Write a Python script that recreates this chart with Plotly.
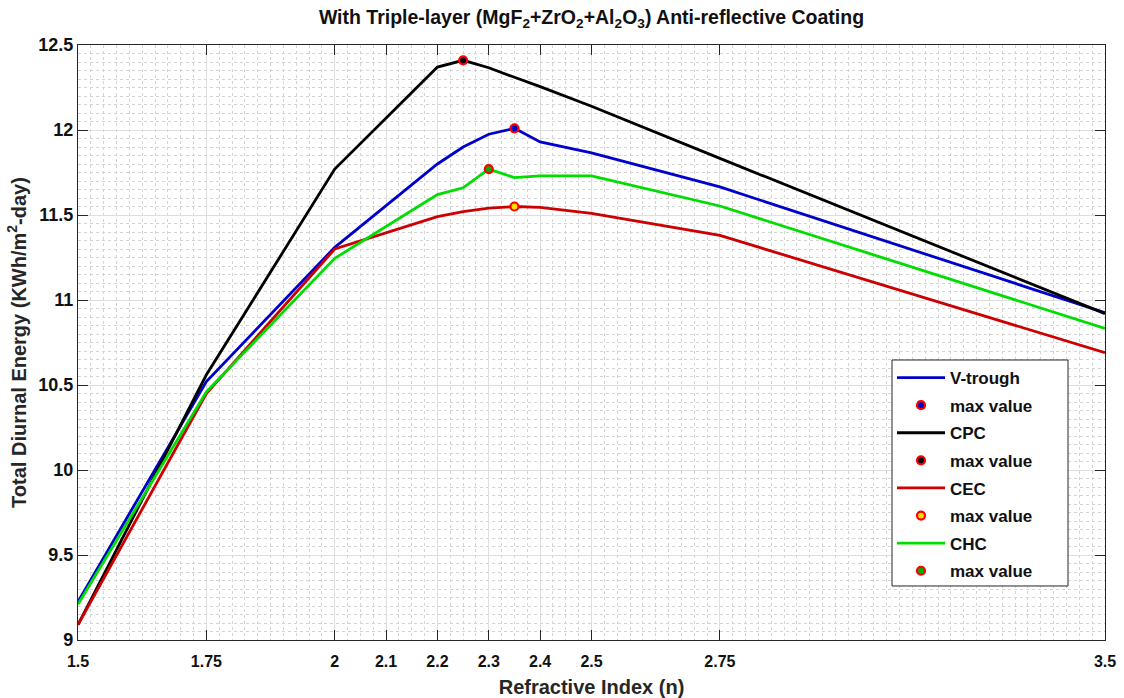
import numpy as np
import plotly.graph_objects as go

# Refractive index of the coating stack
n_index = [1.5, 1.75, 2.0, 2.2, 2.25, 2.3, 2.35, 2.4, 2.5, 2.75, 3.5]

# Total diurnal energy (KWh/m^2-day) per concentrator
v_trough = [9.225, 10.52, 11.31, 11.80, 11.90, 11.975, 12.01, 11.93, 11.865, 11.665, 10.925]
cpc = [9.09, 10.56, 11.77, 12.37, 12.41, 12.366, 12.31, 12.255, 12.14, 11.833, 10.92]
cec = [9.09, 10.45, 11.30, 11.49, 11.52, 11.54, 11.55, 11.545, 11.51, 11.38, 10.69]
chc = [9.21, 10.46, 11.245, 11.62, 11.66, 11.77, 11.72, 11.73, 11.73, 11.553, 10.833]

x_ticks = [1.5, 1.75, 2, 2.1, 2.2, 2.3, 2.4, 2.5, 2.75, 3.5]
x_tick_text = ["1.5", "1.75", "2", "2.1", "2.2", "2.3", "2.4", "2.5", "2.75", "3.5"]
y_ticks = [9, 9.5, 10, 10.5, 11, 11.5, 12, 12.5]
y_tick_text = ["9", "9.5", "10", "10.5", "11", "11.5", "12", "12.5"]

series = [
    ("V-trough", v_trough, "#0000CD", "#0000CD"),
    ("CPC", cpc, "#000000", "#000000"),
    ("CEC", cec, "#CC0000", "#FFE000"),
    ("CHC", chc, "#00DD00", "#00B000"),
]

FONT = "Arial, Liberation Sans, sans-serif"

fig = go.Figure()
for i, (name, vals, color, center) in enumerate(series):
    vals = np.asarray(vals)
    k = int(np.argmax(vals))
    fig.add_trace(go.Scatter(
        x=n_index, y=vals, mode="lines", name=name,
        line=dict(color=color, width=2.8),
        legendgroup=f"g{2*i}",
    ))
    fig.add_trace(go.Scatter(
        x=[n_index[k]], y=[vals[k]], mode="markers", name="max value",
        marker=dict(symbol="circle", size=8, color=center,
                    line=dict(color="#FF0000", width=2.2)),
        legendgroup=f"g{2*i+1}",
    ))

axis_common = dict(
    showline=True, linecolor="#262626", linewidth=1.2, mirror="allticks",
    ticks="inside", ticklen=10, tickwidth=1.2, tickcolor="#262626",
    showgrid=True, gridcolor="#dedede", gridwidth=1.2,
    zeroline=False, automargin=False,
)

fig.update_xaxes(
    range=[1.5, 3.5], tickmode="array", tickvals=x_ticks, ticktext=x_tick_text,
    tickfont=dict(family=FONT, size=16, color="#111111", weight="bold"),
    ticklabelstandoff=7,
    title=dict(text="Refractive Index (n)", standoff=14,
               font=dict(family=FONT, size=20, color="#262626", weight="bold")),
    minor=dict(tick0=1.5, dtick=0.025, showgrid=True, gridcolor="#d4d4d4",
               griddash="dot", gridwidth=1, ticks=""),
    **axis_common,
)
fig.update_yaxes(
    range=[9, 12.5], tickmode="array", tickvals=y_ticks, ticktext=y_tick_text,
    tickfont=dict(family=FONT, size=18, color="#111111", weight="bold"),
    title=dict(text="Total Diurnal Energy (KWh/m<sup>2</sup>-day)", standoff=6,
               font=dict(family=FONT, size=20, color="#262626", weight="bold")),
    minor=dict(tick0=9, dtick=0.05, showgrid=True, gridcolor="#d4d4d4",
               griddash="dot", gridwidth=1, ticks=""),
    **axis_common,
)

# Legend frame drawn as a white box so it can be wider than the entries
fig.add_shape(
    type="rect", xref="paper", yref="paper",
    x0=0.7926, x1=0.964, y0=0.0908, y1=0.4706,
    fillcolor="white", line=dict(color="#262626", width=1), layer="above",
)

fig.update_layout(
    width=1124, height=698,
    margin=dict(l=78, r=19, t=45, b=58),
    paper_bgcolor="white", plot_bgcolor="white",
    title=dict(
        text="With Triple-layer (MgF<sub>2</sub>+ZrO<sub>2</sub>+Al<sub>2</sub>O<sub>3</sub>) Anti-reflective Coating",
        x=0.5, xref="paper", xanchor="center", y=0.975, yanchor="middle",
        font=dict(family=FONT, size=19.5, color="#111111", weight="bold"),
    ),
    legend=dict(
        x=0.7926, y=0.4706, xanchor="left", yanchor="top",
        bgcolor="rgba(0,0,0,0)", borderwidth=0,
        font=dict(family=FONT, size=17, color="#111111", weight="bold"),
        traceorder="grouped", tracegroupgap=2.5, itemwidth=48,
    ),
    showlegend=True,
)

fig.write_html("out.html")
